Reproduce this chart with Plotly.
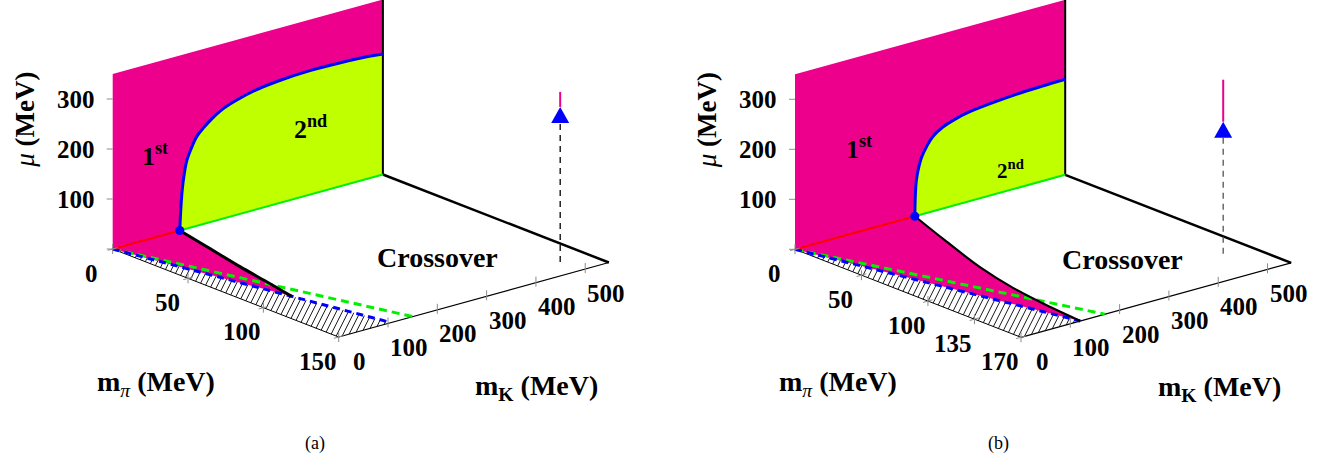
import numpy as np
import plotly.graph_objects as go

# ---------------- data ----------------
MK_MAX = 548          # far edge of the m_K axis (MeV)
MU_MAX = 350          # top of the mu wall (MeV)
mu_ticks = [100, 200, 300]
mk_ticks = [0, 100, 200, 300, 400, 500]

# panel (a)
a_mpi_max = 150
a_mpi_ticks = [0, 50, 100, 150]
a_tric = 136                                   # tricritical m_K at m_pi=0, mu=0
a_wall_mk = [136, 138, 141, 145, 150, 158, 170, 185, 200, 225, 250, 290, 340, 400, 460, 520, 548]
a_wall_mu = [0, 40, 80, 110, 135, 155, 178, 193, 205, 220, 229, 239, 245, 248, 247, 244, 241]
a_floor_mpi = [0, 24, 53, 75, 96.5]
a_floor_mk = [136, 118.6, 97, 83, 68.2]
a_phys = [136, 492]          # (m_pi, m_K) physical point
a_phys_muc = 294
a_phys_mutop = 340

# panel (b)
b_mpi_max = 170
b_mpi_ticks = [0, 50, 100, 135, 170]
b_tric = 243
b_wall_mk = [243, 244, 246, 250, 257, 267, 280, 300, 325, 350, 400, 450, 500, 548]
b_wall_mu = [0, 40, 70, 92, 115, 133, 150, 163, 172, 178, 184, 188, 190, 191]
b_floor_mpi = [0, 36, 77, 112, 145, 170]
b_floor_mk = [243, 206, 166, 141, 127, 120.2]
b_phys = [138.5, 495]
b_phys_muc = 248
b_phys_mutop = 348

# ---------------- styling / projection ----------------
MAGENTA = "#EC008C"
LIME = "#BFFF00"
BLUE = "#0000FF"
GREEN = "#00F000"
RED = "#FF0000"
GREY = "#8c8c8c"
FONT = "Liberation Serif"

PI_VEC = (226.0, 88.0)
K_VEC = (270.2, -74.5)
MU_PX = 0.5
ORIGINS = {"a": (112.7, 249.0), "b": (795.0, 249.3)}
PIMAX = {"a": a_mpi_max, "b": b_mpi_max}


def P(panel, mpi, mk, mu=0.0):
    ox, oy = ORIGINS[panel]
    pm = PIMAX[panel]
    mpi = np.asarray(mpi, float)
    mk = np.asarray(mk, float)
    mu = np.asarray(mu, float)
    x = ox + mpi / pm * PI_VEC[0] + mk / MK_MAX * K_VEC[0]
    y = oy + mpi / pm * PI_VEC[1] + mk / MK_MAX * K_VEC[1] - mu * MU_PX
    shp = np.broadcast(x, y).shape
    return np.broadcast_to(x, shp).astype(float), np.broadcast_to(y, shp).astype(float)


traces = []
annotations = []


def line(x, y, color, width, dash=None, shape="linear"):
    traces.append(go.Scatter(x=list(np.atleast_1d(x)), y=list(np.atleast_1d(y)), mode="lines",
                             line=dict(color=color, width=width, dash=dash, shape=shape),
                             hoverinfo="skip", showlegend=False))


def poly(x, y, color):
    traces.append(go.Scatter(x=list(x), y=list(y), mode="lines", fill="toself",
                             fillcolor=color, line=dict(width=0, color=color),
                             hoverinfo="skip", showlegend=False))


def text(x, y, s, size, xanchor="center", yanchor="middle", angle=0):
    annotations.append(dict(x=float(x), y=float(y), xref="x", yref="y", text=s, showarrow=False,
                            xanchor=xanchor, yanchor=yanchor, textangle=angle,
                            font=dict(family=FONT, size=size, color="black")))


def hatch_segments(verts, step=12.0):
    # lines 2x + y = c clipped to convex polygon verts
    vx = np.array([v[0] for v in verts])
    vy = np.array([v[1] for v in verts])
    f = 2 * vx + vy
    xs, ys = [], []
    c = f.min() + step / 2
    n = len(verts)
    while c < f.max():
        pts = []
        for i in range(n):
            a, b = i, (i + 1) % n
            fa, fb = f[a] - c, f[b] - c
            if fa * fb < 0:
                t = fa / (fa - fb)
                pts.append((vx[a] + t * (vx[b] - vx[a]), vy[a] + t * (vy[b] - vy[a])))
        if len(pts) >= 2:
            xs += [pts[0][0], pts[1][0], None]
            ys += [pts[0][1], pts[1][1], None]
        c += step
    return xs, ys


def build(panel, d):
    pm = PIMAX[panel]
    s2 = np.sqrt(2.0)
    # --- wall (m_pi = 0) ---
    wx, wy = P(panel, [0, 0, 0, 0], [0, MK_MAX, MK_MAX, 0], [0, 0, MU_MAX, MU_MAX])
    poly(wx, wy, MAGENTA)
    cx, cy = P(panel, 0, d["wall_mk"], d["wall_mu"])
    ex, ey = P(panel, [0, 0], [MK_MAX, d["tric"]], [0, 0])
    poly(list(cx) + list(ex), list(cy) + list(ey), LIME)
    # --- floor first-order region ---
    fx, fy = P(panel, d["floor_mpi"], d["floor_mk"], 0)
    ox, oy = P(panel, 0, 0, 0)
    poly([float(ox)] + list(fx), [float(oy)] + list(fy), MAGENTA)
    # --- hatched unphysical region (m_K < m_pi/sqrt2) ---
    tx, ty = P(panel, [0, pm, pm], [0, 0, pm / s2], 0)
    hx, hy = hatch_segments(list(zip(tx, ty)))
    line(hx, hy, "black", 0.9)
    # --- axes lines on floor ---
    ax_, ay_ = P(panel, [0, pm], [0, 0], 0)
    line(ax_, ay_, "black", 1)
    kx, ky = P(panel, [pm, pm], [0, MK_MAX], 0)
    line(kx, ky, "black", 1.2)
    # --- dashed symmetric / m_s=0 lines ---
    gx, gy = P(panel, [0, pm], [0, pm], 0)
    line(gx, gy, GREEN, 3, dash="8px,5px")
    bx, by = P(panel, [0, pm], [0, pm / s2], 0)
    line(bx, by, BLUE, 3, dash="7px,5px")
    # --- floor far edge and wall edge ---
    rx, ry = P(panel, [0, pm], [MK_MAX, MK_MAX], 0)
    line(rx, ry, "black", 2.5)
    vx_, vy_ = P(panel, [0, 0], [MK_MAX, MK_MAX], [0, MU_MAX])
    line(vx_, vy_, "black", 2)
    # --- lines along m_K axis at m_pi = 0 ---
    lx, ly = P(panel, [0, 0], [0, d["tric"]], 0)
    line(lx, ly, RED, 2)
    l2x, l2y = P(panel, [0, 0], [d["tric"], MK_MAX], 0)
    line(l2x, l2y, GREEN, 2)
    # --- critical surfaces ---
    line(cx, cy, BLUE, 3, shape="spline")
    line(fx, fy, "black", 3 if panel == "a" else 2.2, shape="spline")
    dx_, dy_ = P(panel, 0, d["tric"], 0)
    traces.append(go.Scatter(x=[float(dx_)], y=[float(dy_)], mode="markers",
                             marker=dict(color=BLUE, size=9), hoverinfo="skip", showlegend=False))
    # --- ticks ---
    tk_x, tk_y = [], []
    for m in mu_ticks + [0]:
        x0, y0 = P(panel, 0, 0, m)
        tk_x += [float(x0) - 6, float(x0), None]
        tk_y += [float(y0), float(y0), None]
    kdir = np.array(K_VEC) / np.hypot(*K_VEC)
    for m in d["mpi_ticks"]:
        x0, y0 = P(panel, m, 0, 0)
        x0, y0 = float(x0), float(y0)
        tk_x += [x0, x0, None, x0 - 5 * kdir[0], x0 + 5 * kdir[0], None]
        tk_y += [y0 - 5, y0 + 5, None, y0 - 5 * kdir[1], y0 + 5 * kdir[1], None]
    for m in mk_ticks[1:]:
        x0, y0 = P(panel, pm, m, 0)
        tk_x += [float(x0), float(x0), None]
        tk_y += [float(y0) - 6, float(y0) + 4, None]
    line(tk_x, tk_y, GREY, 1)
    # --- physical point ---
    px0, py0 = P(panel, d["phys"][0], d["phys"][1], 0)
    pcx, pcy = P(panel, d["phys"][0], d["phys"][1], d["phys_muc"])
    ptx, pty = P(panel, d["phys"][0], d["phys"][1], d["phys_mutop"])
    px0, py0, pcx, pcy, ptx, pty = map(float, (px0, py0, pcx, pcy, ptx, pty))
    line([px0, px0], [py0, pcy + 8], "black" if panel == "a" else "#555555", 1.3, dash="6px,5px")
    line([ptx, ptx], [pcy - 8, pty], MAGENTA, 2)
    poly([pcx - 9, pcx + 9, pcx], [pcy + 8, pcy + 8, pcy - 8], BLUE)
    # --- tick labels ---
    for m in mu_ticks:
        x0, y0 = P(panel, 0, 0, m)
        text(float(x0) - 37, float(y0), "<b>%d</b>" % m, 25)
    for m in d["mpi_ticks"]:
        x0, y0 = P(panel, m, 0, 0)
        text(float(x0) - 21, float(y0) + 24, "<b>%d</b>" % m, 25)
    for m in mk_ticks:
        x0, y0 = P(panel, pm, m, 0)
        text(float(x0) + 21, float(y0) + 24, "<b>%d</b>" % m, 25)
    # --- axis titles ---
    x0, y0 = P(panel, pm / 2, 0, 0)
    text(float(x0) - 70, float(y0) + 90, "<b>m</b><sub><i>π</i></sub> <b>(MeV)</b>", 28)
    x0, y0 = P(panel, pm, MK_MAX / 2, 0)
    text(float(x0) + 63, float(y0) + 88, "<b>m</b><sub><b>K</b></sub> <b>(MeV)</b>", 28)
    x0, y0 = P(panel, 0, 0, 258)
    text(float(x0) - 88, float(y0), "<i>μ</i> <b>(MeV)</b>", 27, angle=-90)
    # --- region labels ---
    x0, y0 = P(panel, 0, d["l1"][0], d["l1"][1])
    text(x0, y0, "<b>1<sup>st</sup></b>", 26)
    x0, y0 = P(panel, 0, d["l2"][0], d["l2"][1])
    text(x0, y0, "<b>2<sup>nd</sup></b>", d["l2size"])
    x0, y0 = P(panel, d["lc"][0], d["lc"][1], 0)
    text(x0, y0, "<b>Crossover</b>", 28)
    # caption
    ox, oy = ORIGINS[panel]
    text(ox + d["cap_dx"], 443, "(%s)" % panel, 18)


build("a", dict(tric=a_tric, wall_mk=a_wall_mk, wall_mu=a_wall_mu, floor_mpi=a_floor_mpi,
                floor_mk=a_floor_mk, mpi_ticks=a_mpi_ticks, phys=a_phys, phys_muc=a_phys_muc,
                phys_mutop=a_phys_mutop, l1=(86, 165), l2=(402, 133), l2size=26, lc=(98, 360),
                cap_dx=202))
build("b", dict(tric=b_tric, wall_mk=b_wall_mk, wall_mu=b_wall_mu, floor_mpi=b_floor_mpi,
                floor_mk=b_floor_mk, mpi_ticks=b_mpi_ticks, phys=b_phys, phys_muc=b_phys_muc,
                phys_mutop=b_phys_mutop, l1=(130, 169), l2=(438, 41), l2size=21, lc=(113.8, 356.8),
                cap_dx=203))

fig = go.Figure(traces)
fig.update_layout(
    width=1340, height=466, margin=dict(l=0, r=0, t=0, b=0),
    paper_bgcolor="white", plot_bgcolor="white",
    xaxis=dict(range=[0, 1340], visible=False, fixedrange=True),
    yaxis=dict(range=[466, 0], visible=False, fixedrange=True),
    annotations=annotations, showlegend=False,
)
fig.write_html("out.html", config={"displayModeBar": False},
               post_script="document.body.style.margin='0';document.body.style.overflow='hidden';")
